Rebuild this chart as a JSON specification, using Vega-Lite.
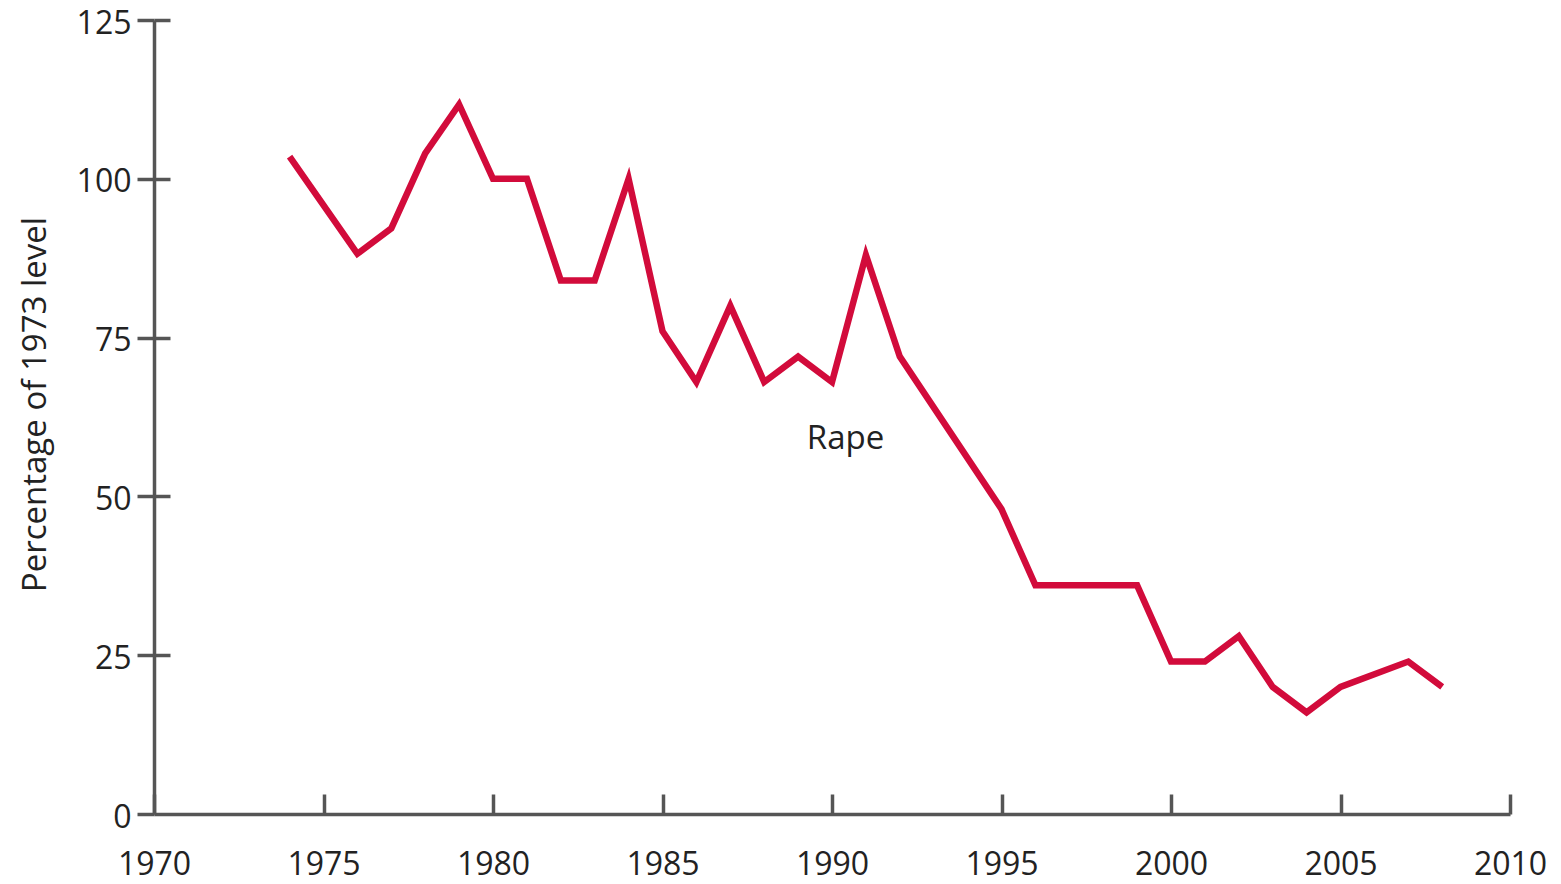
{
  "$schema": "https://vega.github.io/schema/vega-lite/v6.json",
  "width": 1356,
  "height": 794,
  "autosize": {"type": "none"},
  "padding": {"left": 154, "top": 20, "right": 51, "bottom": 70},
  "background": "white",
  "config": {"view": {"stroke": null}, "font": "Open Sans"},
  "data": {"values": [
    {"year": 1974, "value": 103.5},
    {"year": 1976, "value": 88.2},
    {"year": 1977, "value": 92.2},
    {"year": 1978, "value": 104},
    {"year": 1979, "value": 111.7},
    {"year": 1980, "value": 100},
    {"year": 1981, "value": 100},
    {"year": 1982, "value": 84},
    {"year": 1983, "value": 84},
    {"year": 1984, "value": 100},
    {"year": 1985, "value": 76},
    {"year": 1986, "value": 68},
    {"year": 1987, "value": 80},
    {"year": 1988, "value": 68},
    {"year": 1989, "value": 72},
    {"year": 1990, "value": 68},
    {"year": 1991, "value": 88},
    {"year": 1992, "value": 72},
    {"year": 1995, "value": 48},
    {"year": 1996, "value": 36},
    {"year": 1997, "value": 36},
    {"year": 1998, "value": 36},
    {"year": 1999, "value": 36},
    {"year": 2000, "value": 24},
    {"year": 2001, "value": 24},
    {"year": 2002, "value": 28},
    {"year": 2003, "value": 20},
    {"year": 2004, "value": 16},
    {"year": 2005, "value": 20},
    {"year": 2007, "value": 24},
    {"year": 2008, "value": 20}
  ]},
  "layer": [
    {
      "mark": {"type": "line", "color": "#d20b3b", "strokeWidth": 6.5, "strokeJoin": "miter", "strokeCap": "butt"},
      "encoding": {
        "x": {"field": "year", "type": "quantitative",
          "scale": {"domain": [1970, 2010], "nice": false, "zero": false},
          "axis": {"values": [1970, 1975, 1980, 1985, 1990, 1995, 2000, 2005, 2010], "format": "d", "title": null,
            "grid": false, "domainColor": "#555555", "domainWidth": 3.5, "tickColor": "#555555", "tickWidth": 3.5,
            "tickSize": -20, "labelPadding": 55, "labelFontSize": 32, "labelColor": "#222222", "labelFont": "Open Sans",
            "labelFlush": false, "labelOverlap": false}},
        "y": {"field": "value", "type": "quantitative",
          "scale": {"domain": [0, 125], "nice": false},
          "axis": {"values": [0, 25, 50, 75, 100, 125], "title": "Percentage of 1973 level", "grid": false,
            "domainColor": "#555555", "domainWidth": 3.5, "tickColor": "#555555", "tickWidth": 3.5,
            "tickSize": 17, "labelPadding": 6, "labelOffset": 3, "labelFontSize": 32, "labelColor": "#222222", "labelFont": "Open Sans",
            "titleFont": "Open Sans", "titleFontSize": 33, "titleFontWeight": "normal", "titleColor": "#222222",
            "titleY": 384, "titleAlign": "center", "titlePadding": 24, "labelFlush": false, "labelOverlap": false}}
      }
    },
    {
      "mark": {"type": "text", "fontSize": 33, "font": "Open Sans", "color": "#222222", "align": "center", "baseline": "middle"},
      "data": {"values": [{"year": 1990.4, "value": 59, "label": "Rape"}]},
      "encoding": {
        "x": {"field": "year", "type": "quantitative"},
        "y": {"field": "value", "type": "quantitative", "axis": null},
        "text": {"field": "label"}
      }
    },
    {
      "mark": {"type": "point", "opacity": 0},
      "data": {"values": [{"year": 1980, "value": 50}]},
      "encoding": {
        "x": {"field": "year", "type": "quantitative"},
        "y": {"field": "value", "type": "quantitative", "scale": {"domain": [0, 125], "nice": false},
          "axis": {"orient": "left", "values": [25, 50, 75, 100, 125], "labels": false, "domain": false, "title": null, "grid": false,
            "tickColor": "#555555", "tickWidth": 3.5, "tickSize": -16}}
      }
    }
  ],
  "resolve": {"axis": {"y": "independent"}}
}
